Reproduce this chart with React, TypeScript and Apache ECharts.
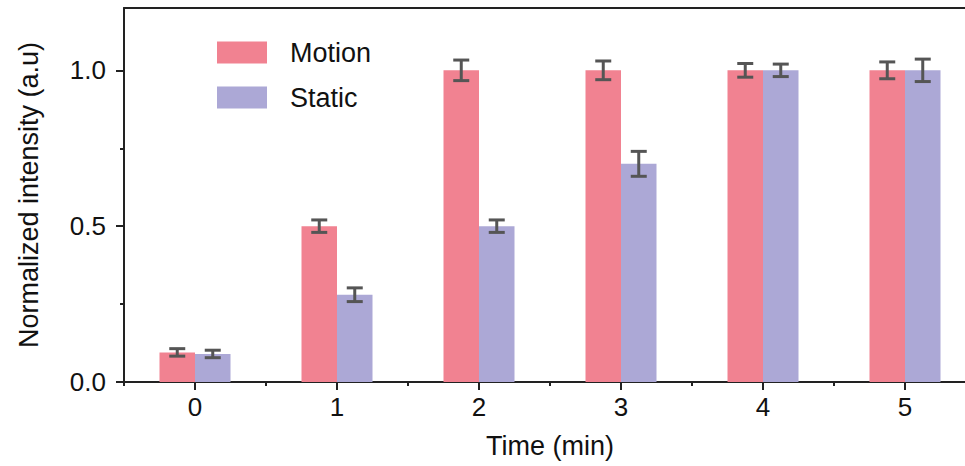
import React, { useEffect, useRef } from "react";
import * as echarts from "echarts";

const categories = ["0", "1", "2", "3", "4", "5"];
const motionValues = [0.095, 0.5, 1.0, 1.0, 1.0, 1.0];
const motionErrors = [0.012, 0.02, 0.033, 0.03, 0.022, 0.027];
const staticValues = [0.09, 0.28, 0.5, 0.7, 1.0, 1.0];
const staticErrors = [0.012, 0.022, 0.02, 0.04, 0.02, 0.036];
const yTickValues = [0, 0.5, 1.0];
const yMinorTickValues = [0.25, 0.75];

const MOTION_COLOR = "#F18291";
const STATIC_COLOR = "#ACA8D6";
const AXIS_COLOR = "#222";
const ERR_COLOR = "#555";
const FONT = "Liberation Sans, Arial, sans-serif";

function errorSeries(name: string, values: number[], errors: number[], side: number) {
  return {
    type: "custom",
    name: name + "-err",
    xAxisIndex: 0,
    yAxisIndex: 0,
    z: 10,
    data: values.map((v, i) => [i, v - errors[i], v + errors[i]]),
    renderItem: (params: any, api: any) => {
      const idx = api.value(0);
      const band = api.size([1, 0])[0];
      const off = band * 0.125 * side;
      const lo = api.coord([idx, api.value(1)]);
      const hi = api.coord([idx, api.value(2)]);
      const x = lo[0] + off;
      const hw = 8;
      const style = { stroke: ERR_COLOR, lineWidth: 3 };
      return {
        type: "group",
        children: [
          { type: "line", shape: { x1: x, y1: lo[1], x2: x, y2: hi[1] }, style },
          { type: "line", shape: { x1: x - hw, y1: lo[1], x2: x + hw, y2: lo[1] }, style },
          { type: "line", shape: { x1: x - hw, y1: hi[1], x2: x + hw, y2: hi[1] }, style },
        ],
      };
    },
  };
}

export default function App() {
  const ref = useRef<HTMLDivElement>(null);
  useEffect(() => {
    if (!ref.current) return;
    const chart = echarts.init(ref.current, null, { renderer: "svg" });
    chart.setOption({
      animation: false,
      backgroundColor: "#fff",
      textStyle: { fontFamily: FONT },
      grid: { left: 124, top: 8, width: 852, bottom: 84, containLabel: false, outerBoundsMode: "none" },
      legend: {
        orient: "vertical",
        left: 217,
        top: 39,
        padding: 0,
        itemWidth: 50,
        itemHeight: 22,
        itemGap: 18,
        data: ["Motion", "Static"],
        textStyle: { fontSize: 27, lineHeight: 22, color: "#111", fontFamily: FONT, padding: [0, 0, 0, 18] },
        icon: "rect",
      },
      xAxis: [
        {
          type: "category",
          position: "bottom",
          data: categories,
          axisLine: { show: true, lineStyle: { color: AXIS_COLOR, width: 2 } },
          axisTick: { show: true, alignWithLabel: true, length: 8, lineStyle: { color: AXIS_COLOR, width: 2 } },
          axisLabel: { fontSize: 26, color: "#111", margin: 12, fontFamily: FONT },
          name: "Time (min)",
          nameLocation: "middle",
          nameGap: 50,
          nameTextStyle: { fontSize: 27, color: "#111", fontFamily: FONT },
          splitLine: { show: false },
        },
        {
          type: "category",
          position: "bottom",
          data: categories,
          axisLine: { show: false },
          axisTick: { show: true, length: 4, lineStyle: { color: AXIS_COLOR, width: 2 } },
          axisLabel: { show: false },
          splitLine: { show: false },
        },
        {
          type: "category",
          position: "top",
          data: categories,
          axisLine: { show: true, lineStyle: { color: AXIS_COLOR, width: 2 } },
          axisTick: { show: false },
          axisLabel: { show: false },
          splitLine: { show: false },
        },
      ],
      yAxis: [
        {
          type: "value",
          position: "left",
          min: 0,
          max: 1.2,
          interval: 0.25,
          axisLine: { show: true, lineStyle: { color: AXIS_COLOR, width: 2 } },
          axisTick: { show: true, length: 8, customValues: yTickValues, lineStyle: { color: AXIS_COLOR, width: 2 } },
          axisLabel: {
            fontSize: 26,
            color: "#111",
            margin: 18,
            customValues: yTickValues,
            formatter: (v: number) => v.toFixed(1),
            fontFamily: FONT,
          },
          splitLine: { show: false },
          name: "Normalized intensity (a.u)",
          nameLocation: "middle",
          nameGap: 82,
          nameTextStyle: { fontSize: 27, color: "#111", fontFamily: FONT },
        },
        {
          type: "value",
          position: "left",
          min: 0,
          max: 1.2,
          interval: 0.25,
          axisLine: { show: false },
          axisTick: { show: true, length: 4, customValues: yMinorTickValues, lineStyle: { color: AXIS_COLOR, width: 2 } },
          axisLabel: { show: false },
          splitLine: { show: false },
        },
      ],
      series: [
        {
          type: "bar",
          name: "Motion",
          data: motionValues,
          barGap: "0%",
          barCategoryGap: "50%",
          itemStyle: { color: MOTION_COLOR },
        },
        {
          type: "bar",
          name: "Static",
          data: staticValues,
          barGap: "0%",
          barCategoryGap: "50%",
          itemStyle: { color: STATIC_COLOR },
        },
        errorSeries("Motion", motionValues, motionErrors, -1),
        errorSeries("Static", staticValues, staticErrors, 1),
      ],
    });
    return () => chart.dispose();
  }, []);
  return (
    <div
      ref={ref}
      style={{ position: "fixed", left: 0, top: 0, width: 965, height: 466, background: "#fff" }}
    />
  );
}
